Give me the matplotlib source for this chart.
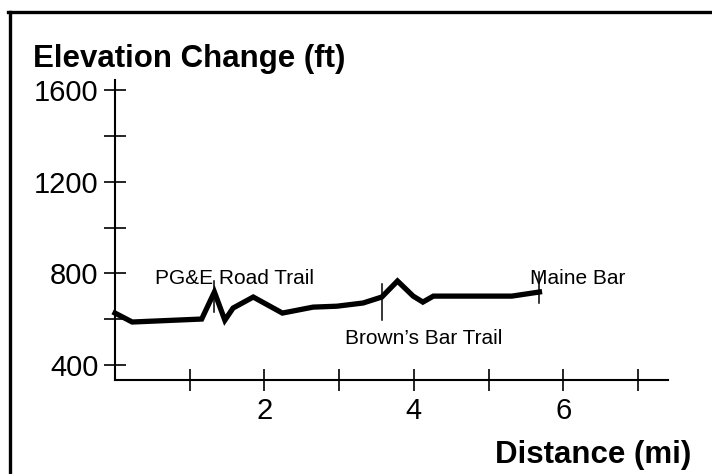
import matplotlib
matplotlib.use("Agg")
import matplotlib.pyplot as plt
from matplotlib.lines import Line2D

plt.rcParams['font.family'] = ['Liberation Sans', 'DejaVu Sans']

# Data
distance_mi = [0.0, 0.23, 1.16, 1.33, 1.47, 1.58, 1.85, 2.24, 2.65, 2.97, 3.32, 3.57, 3.78, 3.99, 4.12, 4.26, 5.31, 5.68]
elevation_ft = [627, 588, 601, 719, 596, 649, 697, 627, 653, 657, 671, 697, 767, 701, 675, 701, 701, 719]

marker_names = ["PG&E Road Trail", "Brown\u2019s Bar Trail", "Maine Bar"]
marker_x = [1.33, 3.57, 5.68]
marker_y0 = [633, 598, 673]
marker_y1 = [765, 752, 805]

y_major = [400, 800, 1200, 1600]
y_minor = [600, 1000, 1400]
x_ticks = [1, 2, 3, 4, 5, 6, 7]
x_labels = ["", "2", "", "4", "", "6", ""]

fig = plt.figure(figsize=(7.12, 4.74), dpi=100)
W, H = 712, 474
ax = fig.add_axes([115 / W, 1 - 380 / H, (668 - 115) / W, (380 - 80) / H])
ax.set_xlim(0, 7.4)
ax.set_ylim(335, 1644)

ax.plot(distance_mi, elevation_ft, color='black', lw=3.8, solid_joinstyle='miter', clip_on=False)

for x, y0, y1 in zip(marker_x, marker_y0, marker_y1):
    ax.plot([x, x], [y0, y1], color='black', lw=1.1)

# labels for trail markers
ax.text(1.6, 755, marker_names[0], fontsize=15, ha='center', va='baseline')
ax.text(4.13, 490, marker_names[1], fontsize=15, ha='center', va='baseline')
ax.text(5.55, 755, marker_names[2], fontsize=15, ha='left', va='baseline')

for s in ['top', 'right']:
    ax.spines[s].set_visible(False)
for s in ['left', 'bottom']:
    ax.spines[s].set_linewidth(1.5)

ax.set_yticks(y_major)
ax.set_yticks(y_minor, minor=True)
ax.set_xticks(x_ticks)
ax.set_xticklabels(x_labels)
ax.tick_params(axis='both', which='both', direction='inout', length=16, width=1.2, labelsize=21, pad=4)
ax.tick_params(axis='y', which='minor', length=16)

fig.text(33 / W, 1 - 67 / H, "Elevation Change (ft)", fontsize=22.5, fontweight='bold', ha='left', va='baseline')
fig.text(691 / W, 1 - 463 / H, "Distance (mi)", fontsize=22.5, fontweight='bold', ha='right', va='baseline')

# outer frame (top and left)
fig.add_artist(Line2D([8 / W, 1.0], [1 - 12 / H, 1 - 12 / H], transform=fig.transFigure, color='black', lw=2.4))
fig.add_artist(Line2D([9.5 / W, 9.5 / W], [0, 1 - 12 / H], transform=fig.transFigure, color='black', lw=2.4))

fig.savefig("out.png", dpi=100)
